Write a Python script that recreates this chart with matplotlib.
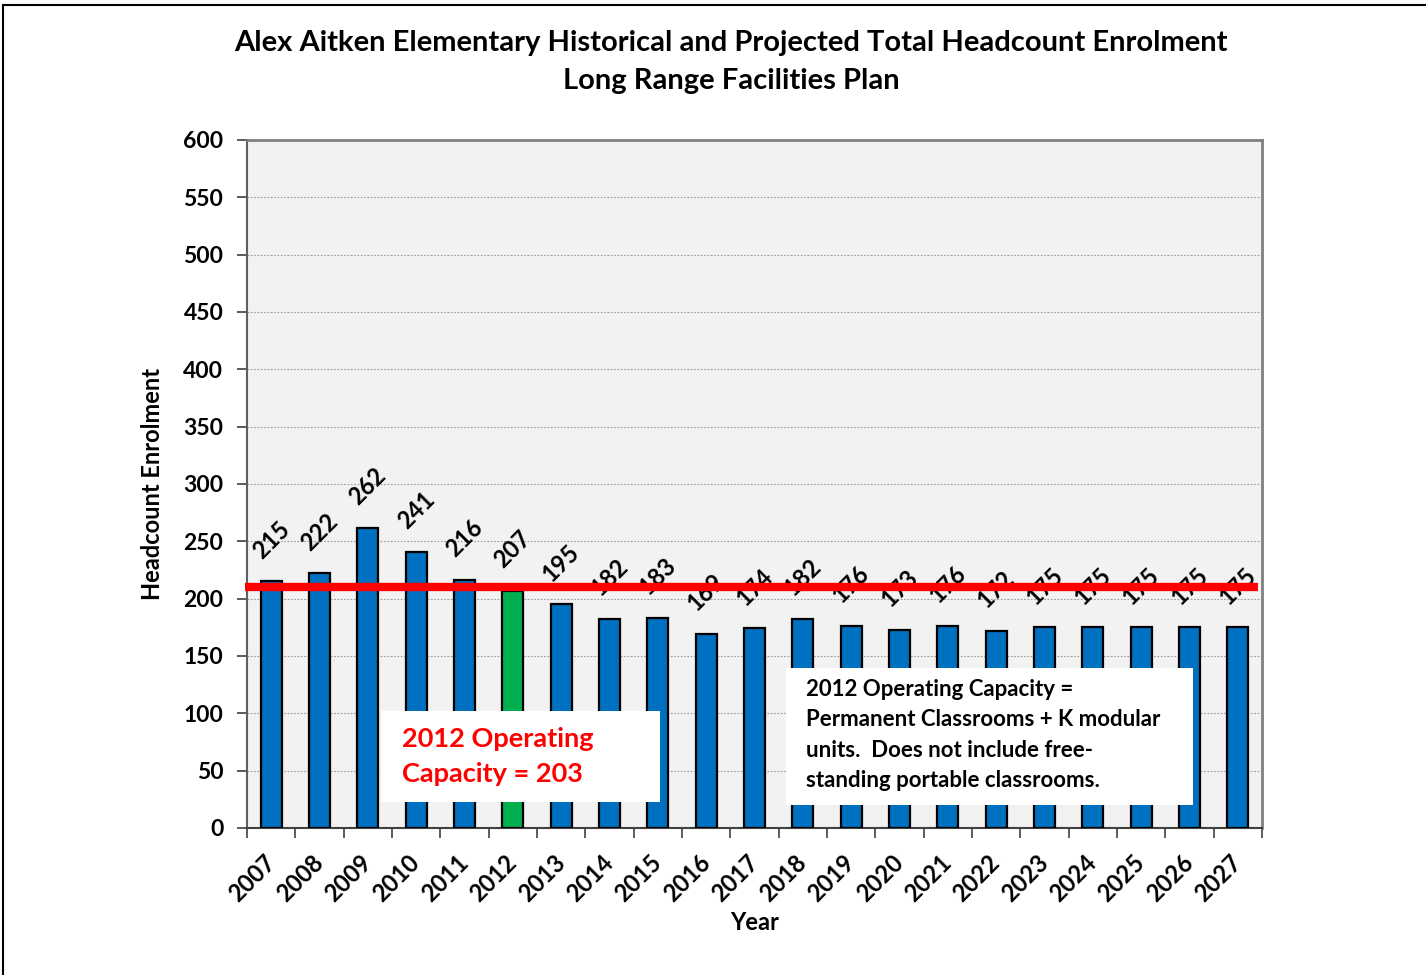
import matplotlib.pyplot as plt
from matplotlib.lines import Line2D
from matplotlib.patches import Rectangle
import numpy as np

plt.rcParams['font.family'] = ['Lato', 'DejaVu Sans']
plt.rcParams['font.weight'] = 'bold'

years = ['2007', '2008', '2009', '2010', '2011', '2012', '2013', '2014', '2015', '2016', '2017',
         '2018', '2019', '2020', '2021', '2022', '2023', '2024', '2025', '2026', '2027']
enrolment = [215, 222, 262, 241, 216, 207, 195, 182, 183, 169, 174,
             182, 176, 173, 176, 172, 175, 175, 175, 175, 175]
capacity_line = 210
highlight_year = '2012'

blue = '#0070C0'
green = '#00B050'

fig = plt.figure(figsize=(14.26, 9.75), dpi=100)
ax = fig.add_axes([247/1426, 1 - 828/975, 1015/1426, 688/975])
ax.set_facecolor('#F2F2F2')

x = np.arange(len(years))
colors = [green if y == highlight_year else blue for y in years]
ax.bar(x, enrolment, width=0.43, color=colors, edgecolor='black', linewidth=1.6, zorder=3)

for xi, v in zip(x, enrolment):
    ax.annotate(str(v), (xi, v), xytext=(0, 30), textcoords='offset points',
                ha='center', va='center', rotation=45, fontsize=17, fontweight='bold', zorder=4)

ax.hlines(capacity_line, -0.54, 20.42, color='#FF0000', linewidth=6, zorder=5, clip_on=False)

ax.set_xlim(-0.5, len(years) - 0.5)
ax.set_ylim(0, 600)
ax.set_yticks(np.arange(0, 601, 50))
ax.yaxis.grid(True, linestyle=(0, (1.5, 1.5)), color='#9a9a9a', linewidth=0.8, zorder=0)
ax.set_axisbelow(True)

ax.set_xticks(x)
ax.set_xticklabels(years, rotation=45, ha='right', va='center', rotation_mode='anchor',
                   fontsize=17, fontweight='bold')
ax.tick_params(axis='x', length=0, pad=22)
ax.set_xticks(np.arange(-0.5, len(years), 1), minor=True)
ax.tick_params(axis='x', which='minor', length=7, width=1.2, color='#404040', direction='out')
ax.tick_params(axis='y', length=7, width=1.2, color='#404040', direction='out', pad=10,
               labelsize=16.5)
for lab in ax.get_yticklabels():
    lab.set_fontweight('bold')

for s in ['top', 'right']:
    ax.spines[s].set_color('#808080')
    ax.spines[s].set_linewidth(2)
ax.spines['left'].set_color('#606060')
ax.spines['left'].set_linewidth(1.5)
ax.spines['bottom'].set_color('#404040')
ax.spines['bottom'].set_linewidth(1.5)

ax.set_ylabel('Headcount Enrolment', fontsize=17, fontweight='bold', labelpad=14)
ax.set_xlabel('Year', fontsize=17, fontweight='bold', labelpad=4)

fig.text(731/1426, 1 - 62/975, 'Alex Aitken Elementary Historical and Projected Total Headcount Enrolment\nLong Range Facilities Plan',
         ha='center', va='center', fontsize=21, fontweight='bold', linespacing=1.55)

# note boxes
ax.add_patch(Rectangle((0.132, 0.038), 0.275, 0.132, transform=ax.transAxes,
                       facecolor='white', edgecolor='none', zorder=6))
ax.text(0.153, 0.104, '2012 Operating\nCapacity = 203', transform=ax.transAxes,
        color='#FF0000', fontsize=19.5, fontweight='bold', va='center', ha='left', linespacing=1.55,
        zorder=7)

ax.add_patch(Rectangle((0.531, 0.033), 0.401, 0.199, transform=ax.transAxes,
                       facecolor='white', edgecolor='none', zorder=6))
ax.text(0.551, 0.135, '2012 Operating Capacity =\nPermanent Classrooms + K modular\nunits.  Does not include free-\nstanding portable classrooms.',
        transform=ax.transAxes, color='black', fontsize=16, fontweight='bold', va='center', ha='left',
        linespacing=1.55, zorder=7)

fig.add_artist(Line2D([3/1426, 3/1426], [0, 1 - 5/975], color='black', linewidth=1.5))
fig.add_artist(Line2D([3/1426, 1], [1 - 5/975, 1 - 5/975], color='black', linewidth=1.5))

fig.savefig('out.png', dpi=100)
